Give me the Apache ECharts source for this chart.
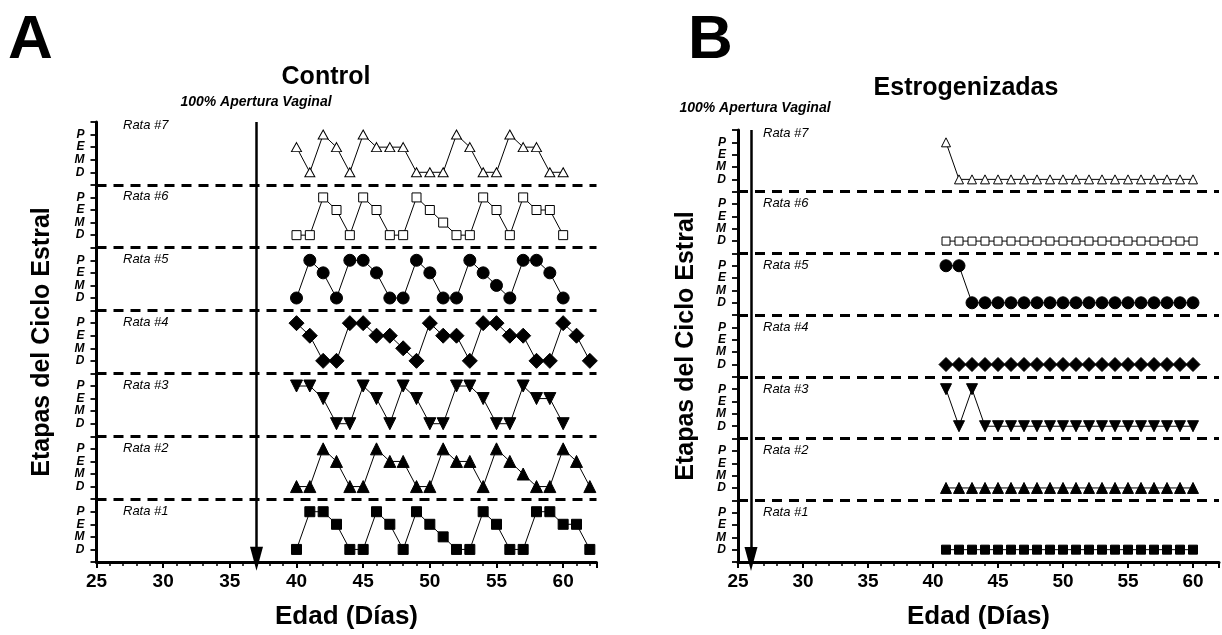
<!DOCTYPE html>
<html><head><meta charset="utf-8">
<script src="https://cdn.jsdelivr.net/npm/echarts@6/dist/echarts.min.js"></script>
<style>html,body{margin:0;padding:0;background:#fff}#c{width:1222px;height:635px}</style>
</head><body><div id="c"></div>
<script>
// ---- data ----
const stageLabels = ['D', 'M', 'E', 'P'];          // level 1..4 inside each row
const xTickValues = [25, 30, 35, 40, 45, 50, 55, 60];
const ratLabels = ['Rata #1', 'Rata #2', 'Rata #3', 'Rata #4', 'Rata #5', 'Rata #6', 'Rata #7'];
const openingDayControl = 37;
const openingDayEstrogen = 26;

// Panel A: Control, first day 40
const controlStart = 40;
const controlRata1 = ['D','P','P','E','D','D','P','E','D','P','E','M','D','D','P','E','D','D','P','P','E','E','D'];
const controlRata2 = ['D','D','P','E','D','D','P','E','E','D','D','P','E','E','D','P','E','M','D','D','P','E','D'];
const controlRata3 = ['P','P','E','D','D','P','E','D','P','E','D','D','P','P','E','D','D','P','E','E','D'];
const controlRata4 = ['P','E','D','D','P','P','E','E','M','D','P','E','E','D','P','P','E','E','D','D','P','E','D'];
const controlRata5 = ['D','P','E','D','P','P','E','D','D','P','E','D','D','P','E','M','D','P','P','E','D'];
const controlRata6 = ['D','D','P','E','D','P','E','D','D','P','E','M','D','D','P','E','D','P','E','E','D'];
const controlRata7 = ['E','D','P','E','D','P','E','E','E','D','D','D','P','E','D','D','P','E','E','D','D'];

// Panel B: Estrogenizadas, first day 41
const estrogenStart = 41;
const estrogenRata1 = ['D','D','D','D','D','D','D','D','D','D','D','D','D','D','D','D','D','D','D','D'];
const estrogenRata2 = ['D','D','D','D','D','D','D','D','D','D','D','D','D','D','D','D','D','D','D','D'];
const estrogenRata3 = ['P','D','P','D','D','D','D','D','D','D','D','D','D','D','D','D','D','D','D','D'];
const estrogenRata4 = ['D','D','D','D','D','D','D','D','D','D','D','D','D','D','D','D','D','D','D','D'];
const estrogenRata5 = ['P','P','D','D','D','D','D','D','D','D','D','D','D','D','D','D','D','D','D','D'];
const estrogenRata6 = ['D','D','D','D','D','D','D','D','D','D','D','D','D','D','D','D','D','D','D','D'];
const estrogenRata7 = ['P','D','D','D','D','D','D','D','D','D','D','D','D','D','D','D','D','D','D','D'];

// ---- helpers ----
const ROW = 5;
function rowData(arr, start, row) {
  return arr.map((s, i) => [start + i, (row - 1) * ROW + stageLabels.indexOf(s) + 1]);
}
const markerStyles = [
  { symbol: 'rect', fill: '#000', rotate: 0 },          // Rata 1
  { symbol: 'triangle', fill: '#000', rotate: 0 },      // Rata 2
  { symbol: 'triangle', fill: '#000', rotate: 180 },    // Rata 3
  { symbol: 'diamond', fill: '#000', rotate: 0 },       // Rata 4
  { symbol: 'circle', fill: '#000', rotate: 0 },        // Rata 5
  { symbol: 'rect', fill: '#fff', rotate: 0 },          // Rata 6
  { symbol: 'triangle', fill: '#fff', rotate: 0 }       // Rata 7
];
const sizesA = [10, 12, 12, [15, 15], 12, 9, [10, 9]];
const sizesB = [9, 11, 11, [14, 14], 12, 8, [9, 9]];

const FONT = '"Liberation Sans", Arial, sans-serif';
const separators = [5, 10, 15, 20, 25, 30].map(v => ({ yAxis: v }));

function makeSeries(rows, start, gridIdx, sizes, arrowDay) {
  const out = rows.map((arr, i) => ({
    type: 'line',
    xAxisIndex: gridIdx * 2,
    yAxisIndex: gridIdx,
    data: rowData(arr, start, i + 1),
    symbol: markerStyles[i].symbol,
    symbolRotate: markerStyles[i].rotate,
    symbolSize: sizes[i],
    itemStyle: { color: markerStyles[i].fill, borderColor: '#000', borderWidth: 1, opacity: 1 },
    lineStyle: { color: '#000', width: 1 },
    animation: false,
    silent: true,
    z: 3
  }));
  out.push({
    type: 'line',
    xAxisIndex: gridIdx * 2,
    yAxisIndex: gridIdx,
    data: [],
    silent: true,
    animation: false,
    markLine: {
      silent: true,
      animation: false,
      symbol: ['none', 'none'],
      label: { show: false },
      lineStyle: { color: '#000', width: 3, type: [10, 7] },
      data: separators
    }
  });
  out.push({
    type: 'line',
    xAxisIndex: gridIdx * 2,
    yAxisIndex: gridIdx,
    data: [],
    silent: true,
    animation: false,
    markLine: {
      silent: true,
      animation: false,
      symbol: ['none', 'triangle'],
      symbolSize: [13, 24],
      label: { show: false },
      lineStyle: { color: '#000', width: 2.5, type: 'solid' },
      itemStyle: { color: '#000' },
      data: [[{ coord: [arrowDay, 35] }, { coord: [arrowDay, 0.25] }]]
    }
  });
  return out;
}

function xAxes(gridIdx, max) {
  return [
    {
      type: 'value', gridIndex: gridIdx, min: 25, max: max, interval: 5, position: 'bottom',
      axisLine: { show: true, lineStyle: { color: '#000', width: 3 } },
      axisTick: { show: true, length: 6, lineStyle: { color: '#000', width: 2 } },
      axisLabel: {
        show: true, margin: 10, color: '#000', fontFamily: FONT, fontWeight: 'bold', fontSize: 19,
        formatter: v => (xTickValues.indexOf(v) >= 0 ? String(v) : '')
      },
      splitLine: { show: false },
      name: 'Edad (Días)', nameLocation: 'middle', nameGap: 42,
      nameTextStyle: { color: '#000', fontFamily: FONT, fontWeight: 'bold', fontSize: 26 }
    },
    {
      type: 'value', gridIndex: gridIdx, min: 25, max: max, interval: 1, position: 'bottom', offset: 0,
      axisLine: { show: false },
      axisTick: { show: true, length: 4, lineStyle: { color: '#000', width: 1.5 } },
      axisLabel: { show: false },
      splitLine: { show: false }
    }
  ];
}

function yAxis(gridIdx, gap) {
  return {
    type: 'value', gridIndex: gridIdx, min: 0, max: 35, interval: 1,
    axisLine: { show: true, lineStyle: { color: '#000', width: 3 } },
    axisTick: { show: true, length: 6, lineStyle: { color: '#000', width: 1.8 } },
    axisLabel: {
      show: true, margin: 12, color: '#000', fontFamily: FONT, fontWeight: 'bold', fontStyle: 'italic', fontSize: 12,
      formatter: v => { const k = Math.round(v) % ROW; return k === 0 ? '' : stageLabels[k - 1]; }
    },
    splitLine: { show: false },
    name: 'Etapas del Ciclo Estral', nameLocation: 'middle', nameGap: gap, nameRotate: 90,
    nameTextStyle: { color: '#000', fontFamily: FONT, fontWeight: 'bold', fontSize: 25 }
  };
}

const gridA = { left: 96.5, top: 122, width: 500, height: 441 };
const gridB = { left: 738, top: 130, width: 481, height: 433 };

function ratText(grid, x, idx) {
  const rowH = grid.height / 7;
  const rowTop = grid.top + (6 - idx) * rowH;
  return {
    type: 'text', left: x, top: rowTop + (idx === 6 ? -3 : 5),
    style: { text: ratLabels[idx], font: 'italic 13px ' + FONT, fill: '#000' }
  };
}

const graphics = [
  { type: 'text', left: 8, top: 10, style: { text: 'A', font: 'bold 62px ' + FONT, fill: '#000' } },
  { type: 'text', left: 688, top: 10, style: { text: 'B', font: 'bold 62px ' + FONT, fill: '#000' } },
  { type: 'text', x: 326, y: 77, style: { text: 'Control', font: 'bold 25px ' + FONT, fill: '#000', textAlign: 'center', textVerticalAlign: 'middle' } },
  { type: 'text', x: 966, y: 88, style: { text: 'Estrogenizadas', font: 'bold 25px ' + FONT, fill: '#000', textAlign: 'center', textVerticalAlign: 'middle' } },
  { type: 'text', x: 256, y: 102, style: { text: '100% Apertura Vaginal', font: 'italic bold 14px ' + FONT, fill: '#000', textAlign: 'center', textVerticalAlign: 'middle' } },
  { type: 'text', x: 755, y: 108, style: { text: '100% Apertura Vaginal', font: 'italic bold 14px ' + FONT, fill: '#000', textAlign: 'center', textVerticalAlign: 'middle' } }
];
for (let i = 0; i < 7; i++) {
  graphics.push(ratText(gridA, 123, i));
  graphics.push(ratText(gridB, 763, i));
}

const chart = echarts.init(document.getElementById('c'), null, { renderer: 'canvas' });
chart.setOption({
  backgroundColor: '#fff',
  animation: false,
  grid: [gridA, gridB],
  xAxis: [...xAxes(0, 62.5), ...xAxes(1, 62)],
  yAxis: [yAxis(0, 42), yAxis(1, 39.5)],
  series: [
    ...makeSeries([controlRata1, controlRata2, controlRata3, controlRata4, controlRata5, controlRata6, controlRata7], controlStart, 0, sizesA, openingDayControl),
    ...makeSeries([estrogenRata1, estrogenRata2, estrogenRata3, estrogenRata4, estrogenRata5, estrogenRata6, estrogenRata7], estrogenStart, 1, sizesB, openingDayEstrogen)
  ],
  graphic: graphics
});
</script>
</body></html>
